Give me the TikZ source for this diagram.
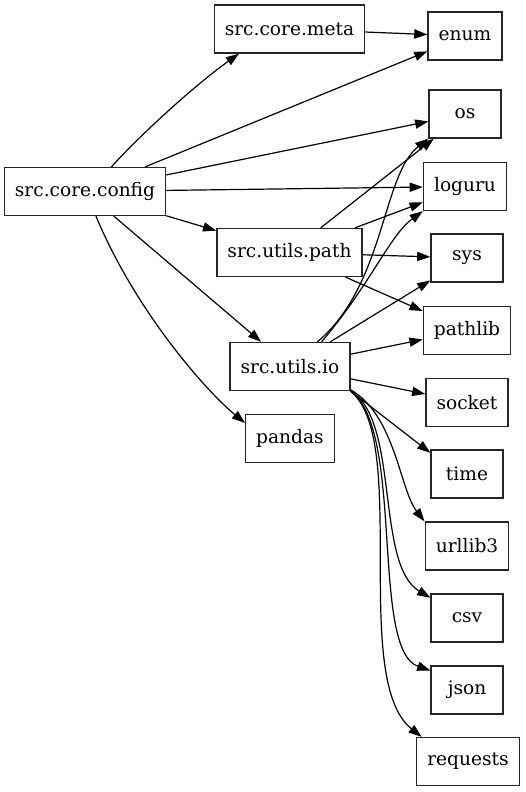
\documentclass[tikz,border=0pt]{standalone}
\usepackage{fontspec}
\setmainfont{DejaVu Serif}
\usetikzlibrary{arrows.meta,positioning}
\tikzset{
  >={Triangle[length=6.6pt,width=4.6pt]},
  mod/.style={draw=black!85,line width=0.65pt,minimum width=36pt,minimum height=24pt,inner xsep=5.3pt,inner ysep=2pt,font=\fontsize{9.3}{11}\selectfont},
  arr/.style={->,draw=black,line width=0.6pt},
}
\begin{document}
\begin{tikzpicture}[x=0.5pt,y=-0.5pt]
\useasboundingbox (0,0) rectangle (525,792);
% packages of the project
\node[mod] (cfg) at (85,191.5) {src.core.config};
\node[mod] (meta) at (289.5,29) {src.core.meta};
\node[mod] (path) at (289.5,252.5) {src.utils.path};
\node[mod] (io) at (290,366.5) {src.utils.io};
\node[mod] (pd) at (290,438.5) {pandas};
% imported modules
\node[mod] (enum) at (465,36) {enum};
\node[mod] (os) at (465,114) {os};
\node[mod] (logu) at (465,186.5) {loguru};
\node[mod] (sys) at (467,258) {sys};
\node[mod] (plib) at (467,330.5) {pathlib};
\node[mod] (sock) at (467,402.5) {socket};
\node[mod] (time) at (467,474) {time};
\node[mod] (url) at (467,546) {urllib3};
\node[mod] (csv) at (467,618) {csv};
\node[mod] (json) at (467,690) {json};
\node[mod] (req) at (468,761.5) {requests};
% straight imports
\foreach \u/\v in {cfg/enum,cfg/os,cfg/logu,cfg/path,cfg/io,meta/enum,path/os,path/logu,path/sys,path/plib,io/sys,io/plib,io/sock}
  \draw[arr] (\u)--(\v);
\draw[arr] (io.-22)--(time.150);
% curved imports
\draw[arr] (cfg.43) .. controls (140,135) and (195,85) .. (meta.206);
\draw[arr] (cfg.-66) .. controls (135,310) and (205,390) .. (pd.161);
\draw[arr] (io.42) .. controls (385,285) and (382,175) .. (os.south west);
\draw[arr] (io.38) .. controls (370,285) and (390,235) .. (logu.south west);
\draw[arr] (io.-21) .. controls (395,415) and (400,490) .. (url.north west);
\draw[arr] (io.south east) .. controls (400,420) and (375,565) .. (csv.151);
\draw[arr] (io.south east) .. controls (405,430) and (370,650) .. (json.152);
\draw[arr] (io.south east) .. controls (410,440) and (350,680) .. (req.152);
\end{tikzpicture}
\end{document}
